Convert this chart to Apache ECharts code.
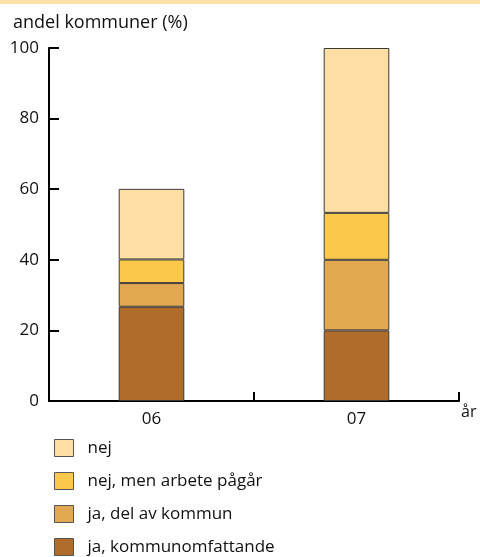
<!DOCTYPE html>
<html>
<head>
<meta charset="utf-8">
<script src="https://cdn.jsdelivr.net/npm/echarts@6/dist/echarts.min.js"></script>
<style>
  html, body { margin: 0; padding: 0; background: #fff; }
  #chart { width: 480px; height: 557px; }
</style>
</head>
<body>
<div id="chart"></div>
<script>
// Andel kommuner per svar och år (%)
const years = ['06', '07'];
const seriesNames = ['ja, kommunomfattande', 'ja, del av kommun', 'nej, men arbete pågår', 'nej'];
const jaKommunomfattande = [26.7, 20];
const jaDelAvKommun = [6.7, 20];
const nejArbetePagar = [6.7, 13.3];
const nej = [20, 46.7];
const yTicks = [0, 20, 40, 60, 80, 100];

const colors = ['#b06c2a', '#e2a852', '#fcc84c', '#fddfa4'];
const values = [jaKommunomfattande, jaDelAvKommun, nejArbetePagar, nej];
const font = '"Open Sans", Lato, sans-serif';

const chart = echarts.init(document.getElementById('chart'));
chart.setOption({
  animation: false,
  textStyle: { fontFamily: font },
  graphic: [
    { type: 'rect', shape: { x: 0, y: 0, width: 480, height: 4 }, style: { fill: '#fde0a8' } },
    { type: 'text', left: 13, top: 14, style: { text: 'andel kommuner (%)', font: '18px ' + font, fill: '#111' } },
    { type: 'text', left: 461, top: 404, style: { text: 'år', font: '16px ' + font, fill: '#111' } }
  ],
  grid: { left: 49, right: 21, top: 48, bottom: 156, containLabel: false },
  legend: {
    orient: 'vertical',
    left: 54,
    top: 439,
    padding: 0,
    height: 118,
    itemWidth: 19,
    itemHeight: 17,
    itemGap: 15,
    icon: 'rect',
    data: ['nej', 'nej, men arbete pågår', 'ja, del av kommun', 'ja, kommunomfattande'],
    textStyle: { fontSize: 17, color: '#111', fontFamily: font, padding: [0, 0, 0, 9] },
    itemStyle: { borderColor: '#555', borderWidth: 1 }
  },
  xAxis: {
    type: 'category',
    data: years,
    axisLine: { lineStyle: { color: '#000', width: 2 } },
    axisTick: { show: true, inside: true, length: 9, lineStyle: { color: '#000', width: 2 } },
    axisLabel: { fontSize: 17, color: '#111', margin: 10 }
  },
  yAxis: {
    type: 'value',
    min: 0,
    max: 100,
    interval: 20,
    splitLine: { show: false },
    axisLine: { show: true, lineStyle: { color: '#000', width: 2 } },
    axisTick: { show: true, inside: true, length: 10, lineStyle: { color: '#000', width: 2 } },
    axisLabel: {
      fontSize: 17, color: '#111', margin: 10,
      formatter: v => (yTicks.includes(v) ? String(v) : '')
    }
  },
  series: seriesNames.map((name, i) => ({
    name,
    type: 'bar',
    stack: 'total',
    barWidth: '32%',
    data: values[i],
    itemStyle: { color: colors[i], borderColor: '#3a3a3a', borderWidth: 1 }
  }))
});
</script>
</body>
</html>
